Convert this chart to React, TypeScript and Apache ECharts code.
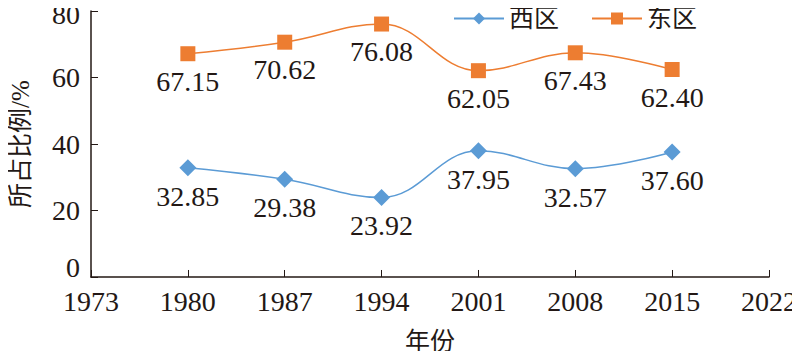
import React, { useEffect, useRef } from "react";
import * as echarts from "echarts";

const years = [1980, 1987, 1994, 2001, 2008, 2015];
const westValues = [32.85, 29.38, 23.92, 37.95, 32.57, 37.6];
const eastValues = [67.15, 70.62, 76.08, 62.05, 67.43, 62.4];
const seriesNames = ["西区", "东区"];

const FONT = "Liberation Serif, Noto Sans CJK SC, serif";
const TXT = "#231815";
const FS = 28;

export default function App() {
  const ref = useRef<HTMLDivElement>(null);
  useEffect(() => {
    if (!ref.current) return;
    const chart = echarts.init(ref.current, null, { renderer: "svg" });
    const mk = (vals: number[]) => years.map((y, i) => [y, vals[i]]);
    const labelCfg = {
      show: true,
      position: "bottom" as const,
      distance: 6,
      color: TXT,
      fontSize: FS,
      fontFamily: FONT,
      formatter: (p: any) => p.value[1].toFixed(2),
    };
    chart.setOption({
      animation: false,
      backgroundColor: "#fff",
      textStyle: { fontFamily: FONT },
      grid: { left: 79, right: 30, top: 10, bottom: 74 },
      legend: {
        top: 1,
        left: 448,
        itemWidth: 50,
        itemHeight: 15,
        itemGap: 32,
        textStyle: { fontSize: 25, color: TXT, fontFamily: FONT },
        data: seriesNames,
      },
      xAxis: {
        type: "value",
        min: 1973,
        max: 2022,
        interval: 7,
        name: "年份",
        nameLocation: "middle",
        nameGap: 52,
        nameTextStyle: { fontSize: 25, color: TXT, fontFamily: FONT },
        axisLine: { lineStyle: { color: TXT, width: 1.5 } },
        axisTick: { inside: true, length: 7, lineStyle: { color: TXT } },
        axisLabel: {
          fontSize: FS,
          color: TXT,
          margin: 10,
          fontFamily: FONT,
          formatter: (v: number) => String(v),
        },
        splitLine: { show: false },
      },
      yAxis: {
        type: "value",
        min: 0,
        max: 80,
        interval: 20,
        name: "所占比例/%",
        nameLocation: "middle",
        nameGap: 58,
        nameTextStyle: { fontSize: 25, color: TXT, fontFamily: FONT },
        axisLine: { show: true, lineStyle: { color: TXT, width: 1.5 } },
        axisTick: { show: true, inside: true, length: 7, lineStyle: { color: TXT } },
        axisLabel: {
          fontSize: FS,
          color: TXT,
          margin: 11,
          fontFamily: FONT,
          formatter: (v: number) => (v === 0 ? "{z|0}" : v === 80 ? "{t|80}" : String(v)),
          rich: {
            z: { fontSize: FS, fontFamily: FONT, color: TXT, padding: [0, 0, 18, 0] },
            t: { fontSize: FS, fontFamily: FONT, color: TXT, padding: [6, 0, 0, 0] },
          },
        },
        splitLine: { show: false },
      },
      series: [
        {
          name: seriesNames[0],
          type: "line",
          smooth: 0.4,
          data: mk(westValues),
          symbol: "diamond",
          symbolSize: 17,
          itemStyle: { color: "#5B9BD5" },
          lineStyle: { color: "#5B9BD5", width: 1.5 },
          label: labelCfg,
        },
        {
          name: seriesNames[1],
          type: "line",
          smooth: 0.4,
          data: mk(eastValues),
          symbol: "rect",
          symbolSize: 15,
          itemStyle: { color: "#ED7D31" },
          lineStyle: { color: "#ED7D31", width: 1.5 },
          label: labelCfg,
        },
      ],
    });
    return () => chart.dispose();
  }, []);
  return <div ref={ref} style={{ width: 800, height: 359, margin: -8 }} />;
}
